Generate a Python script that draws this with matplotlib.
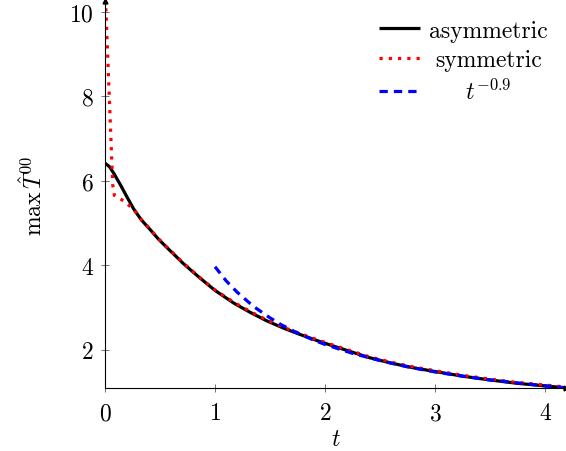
#!/usr/bin/env python3
# plot.py -- decay of max T^00, asymmetric vs symmetric runs

import numpy as np
import matplotlib as mpl
mpl.use("Agg")
import matplotlib.pyplot as plt

# Data
# ----------------------------------------------------------------------
T_ASYM = [0.0, 0.04, 0.08, 0.14, 0.2, 0.26, 0.33, 0.41, 0.48, 0.56, 0.64,
          0.71, 0.86, 1.0, 1.17, 1.32, 1.47, 1.62, 1.77, 1.93, 2.08, 2.21,
          2.4, 2.6, 2.8, 3.0, 3.25, 3.5, 3.75, 4.0, 4.2]
MAX_ASYM = [6.41, 6.33, 6.17, 5.90, 5.61, 5.33, 5.07, 4.84, 4.63, 4.42, 4.22,
            4.04, 3.70, 3.40, 3.10, 2.88, 2.68, 2.51, 2.36, 2.21, 2.08, 1.97,
            1.81, 1.68, 1.57, 1.48, 1.37, 1.28, 1.20, 1.14, 1.09]

T_SYM = [0.0, 0.07, 0.085, 0.15, 0.2, 0.26, 0.33, 0.41, 0.48, 0.56, 0.64,
         0.71, 0.86, 1.0, 1.17, 1.32, 1.47, 1.62, 1.77, 1.93, 2.08, 2.21,
         2.4, 2.6, 2.8, 3.0, 3.25, 3.5, 3.75, 4.0, 4.2]
MAX_SYM = [10.6, 5.90, 5.65, 5.55, 5.45, 5.32, 5.08, 4.85, 4.64, 4.43, 4.23,
           4.05, 3.71, 3.41, 3.12, 2.90, 2.70, 2.53, 2.38, 2.23, 2.10, 1.99,
           1.83, 1.70, 1.59, 1.50, 1.39, 1.30, 1.22, 1.16, 1.11]

T_FIT = [1.0, 1.1, 1.2, 1.35, 1.5, 1.6, 1.75, 1.9, 2.0, 2.25, 2.5, 2.75,
         3.0, 3.25, 3.5, 4.0, 4.2]
MAX_FIT = [3.96, 3.63, 3.36, 3.02, 2.75, 2.59, 2.39, 2.22, 2.12, 1.91, 1.74,
           1.59, 1.47, 1.37, 1.28, 1.14, 1.09]

LABELS = ["asymmetric", "symmetric", r"$t^{-0.9}$"]
XTICKS = [0, 1, 2, 3, 4]
YTICKS = [2, 4, 6, 8, 10]
XLABEL = r"$t$"
YLABEL = r"$\max\,\hat{T}^{00}$"
# ----------------------------------------------------------------------

FONTSIZE = 17
LW = 2.3

mpl.rcParams.update({
    "font.family": "cmr10",
    "mathtext.fontset": "cm",
    "axes.formatter.use_mathtext": True,
    "font.size": FONTSIZE,
})

fig = plt.figure(figsize=(5.66, 4.52), dpi=100)
ax = fig.add_axes([105 / 566, 63 / 452, 461 / 566, 387 / 452])

ax.plot(T_ASYM, MAX_ASYM, color="black", lw=LW, solid_capstyle="butt",
        label=LABELS[0])
ax.plot(T_SYM, MAX_SYM, color="red", lw=LW, dashes=(1, 1.9),
        dash_capstyle="butt", label=LABELS[1])
ax.plot(T_FIT, MAX_FIT, color="blue", lw=LW, dashes=(2.6, 1.9),
        dash_capstyle="butt", label=LABELS[2])

ax.set_xlim(0, 4.19)
ax.set_ylim(1.09, 10.25)
ax.set_xticks(XTICKS)
ax.set_yticks(YTICKS)
ax.set_xlabel(XLABEL, labelpad=3)
ax.set_ylabel(YLABEL, labelpad=16)

for side in ["top", "right"]:
    ax.spines[side].set_visible(False)
for side in ["left", "bottom"]:
    ax.spines[side].set_linewidth(0.8)
ax.tick_params(direction="inout", length=6, width=0.6, color="0.35",
               labelsize=FONTSIZE, pad=7)
ax.tick_params(axis="y", pad=5)

# pgfplots style arrow tips on the axis lines
ax.plot(1, 0, ">k", ms=3.5, transform=ax.transAxes, clip_on=False)
ax.plot(0, 1, "^k", ms=3.5, transform=ax.transAxes, clip_on=False)

leg = ax.legend(loc="upper right", bbox_to_anchor=(0.997, 0.995),
                frameon=False, handlelength=1.75, handletextpad=0.4,
                labelspacing=0.32, borderpad=0.2, fontsize=FONTSIZE)

# center the legend texts like pgfplots does
fig.canvas.draw()
renderer = fig.canvas.get_renderer()
widths = [t.get_window_extent(renderer).width for t in leg.get_texts()]
wmax = max(widths)
for t, w in zip(leg.get_texts(), widths):
    t.set_position(((wmax - w) / 2, 0))

fig.savefig("out.png", dpi=100)
